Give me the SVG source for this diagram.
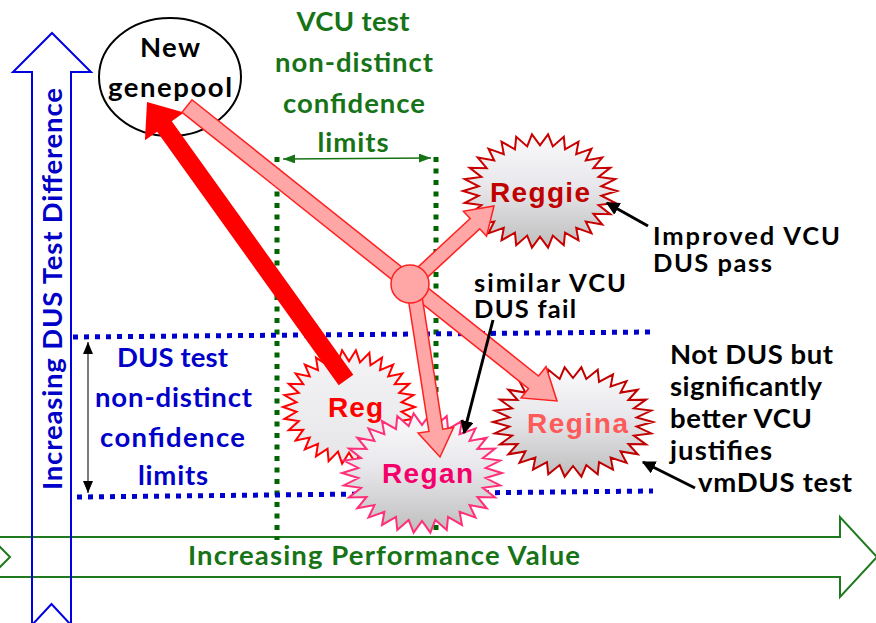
<svg xmlns="http://www.w3.org/2000/svg" xmlns:xlink="http://www.w3.org/1999/xlink" width="876" height="623" viewBox="0 0 876 623">
  <style>
    .cal { font-family: Lato, "Open Sans", "Liberation Sans", sans-serif; font-weight: bold; font-size: 27.5px; }
    .tight { font-size: 25.5px; }
    .ari { font-family: "Liberation Sans", Arial, sans-serif; font-weight: bold; font-size: 28px; text-anchor: middle; }
    .grn { fill: #167316; }
    .blu { fill: #0000C8; }
    .blk { fill: #000; }
    .mid { text-anchor: middle; }
    .blueDots { stroke: #0000CC; stroke-width: 5; stroke-dasharray: 5 6; fill: none; }
    .greenDots { stroke: #006400; stroke-width: 5; stroke-dasharray: 5 6.5; fill: none; }
    .pink { fill: #FFA6A6; stroke: #FF2020; stroke-width: 1.5; stroke-linejoin: miter; }
    .callout { stroke: #000; stroke-width: 3; fill: none; marker-end: url(#ahBlk); }
  </style>
  <defs>
    <linearGradient id="gBurst" x1="0" y1="0" x2="0" y2="1">
      <stop offset="0" stop-color="#FAFAFC"/>
      <stop offset="0.45" stop-color="#E8E8EC"/>
      <stop offset="1" stop-color="#BEBEBE"/>
    </linearGradient>
    <linearGradient id="gBurstLight" x1="0" y1="0" x2="0" y2="1">
      <stop offset="0" stop-color="#F4F4F6"/>
      <stop offset="1" stop-color="#E6E6E8"/>
    </linearGradient>
    <path id="star" vector-effect="non-scaling-stroke" stroke-width="2" stroke-linejoin="miter" d="M100,0 L79.56,8.36 L97.82,20.79 L76.08,24.72 L91.36,40.67 L69.28,40 L80.9,58.78 L59.45,53.53 L66.91,74.31 L47.02,64.72 L50,86.6 L32.54,73.08 L30.9,95.11 L16.63,78.25 L10.45,99.45 L0,80 L-10.45,99.45 L-16.63,78.25 L-30.9,95.11 L-32.54,73.08 L-50,86.6 L-47.02,64.72 L-66.91,74.31 L-59.45,53.53 L-80.9,58.78 L-69.28,40 L-91.36,40.67 L-76.08,24.72 L-97.82,20.79 L-79.56,8.36 L-100,0 L-79.56,-8.36 L-97.82,-20.79 L-76.08,-24.72 L-91.36,-40.67 L-69.28,-40 L-80.9,-58.78 L-59.45,-53.53 L-66.91,-74.31 L-47.02,-64.72 L-50,-86.6 L-32.54,-73.08 L-30.9,-95.11 L-16.63,-78.25 L-10.45,-99.45 L0,-80 L10.45,-99.45 L16.63,-78.25 L30.9,-95.11 L32.54,-73.08 L50,-86.6 L47.02,-64.72 L66.91,-74.31 L59.45,-53.53 L80.9,-58.78 L69.28,-40 L91.36,-40.67 L76.08,-24.72 L97.82,-20.79 L79.56,-8.36 Z"/>
    <marker id="ahBlk" viewBox="0 0 10 10" refX="9" refY="5" markerWidth="4.5" markerHeight="4.5" orient="auto">
      <path d="M0,0 L10,5 L0,10 Z" fill="#000"/>
    </marker>
    <marker id="ahThinK" viewBox="0 0 10 10" refX="10" refY="5" markerUnits="userSpaceOnUse" markerWidth="12" markerHeight="10" orient="auto-start-reverse" preserveAspectRatio="none">
      <path d="M0,0 L10,5 L0,10 Z" fill="#000"/>
    </marker>
    <marker id="ahThinG" viewBox="0 0 10 10" refX="10" refY="5" markerUnits="userSpaceOnUse" markerWidth="12" markerHeight="9" orient="auto-start-reverse" preserveAspectRatio="none">
      <path d="M0,0 L10,5 L0,10 Z" fill="#167316"/>
    </marker>
  </defs>

  <rect x="0" y="0" width="876" height="623" fill="#fff"/>

  <!-- Axes -->
  <g id="axis-performance">
    <polygon points="-10,537 840,537 840,517 877,557 840,597 840,577 -10,577 10,557" fill="none" stroke="#1F7A1F" stroke-width="2"/>
    <text class="cal grn mid" x="384" y="565" textLength="392" lengthAdjust="spacing">Increasing Performance Value</text>
  </g>
  <g id="axis-dus">
    <polygon points="52,33 91,72 71,72 71,625 51.5,604 32,625 32,72 13,72" fill="none" stroke="#0000E0" stroke-width="2"/>
    <text class="cal blu mid" transform="translate(62,289) rotate(-90)" x="0" y="0" textLength="402" lengthAdjust="spacing">Increasing DUS Test Difference</text>
  </g>

  <!-- Confidence limit guides -->
  <g id="vcu-limits">
    <line class="greenDots" x1="277" y1="157" x2="277" y2="540"/>
    <line class="greenDots" x1="436" y1="157" x2="436" y2="532"/>
    <line x1="283" y1="159" x2="431" y2="158" stroke="#167316" stroke-width="1.3" marker-start="url(#ahThinG)" marker-end="url(#ahThinG)"/>
    <text class="cal grn mid" x="353" y="31" textLength="113" lengthAdjust="spacing">VCU test</text>
    <text class="cal grn mid" x="354" y="72" textLength="158" lengthAdjust="spacing">non-distinct</text>
    <text class="cal grn mid" x="354" y="113" textLength="142" lengthAdjust="spacing">confidence</text>
    <text class="cal grn mid" x="353" y="152" textLength="71" lengthAdjust="spacing">limits</text>
  </g>
  <g id="dus-limits">
    <line class="blueDots" x1="73" y1="337" x2="650" y2="332"/>
    <line class="blueDots" x1="77" y1="497" x2="653" y2="491"/>
    <line x1="88" y1="342" x2="88" y2="493" stroke="#333" stroke-width="1.3" marker-start="url(#ahThinK)" marker-end="url(#ahThinK)"/>
    <text class="cal blu mid" x="172.5" y="367" textLength="111" lengthAdjust="spacing">DUS test</text>
    <text class="cal blu mid" x="173.5" y="407" textLength="157" lengthAdjust="spacing">non-distinct</text>
    <text class="cal blu mid" x="172.5" y="447" textLength="145" lengthAdjust="spacing">confidence</text>
    <text class="cal blu mid" x="173" y="485" textLength="70" lengthAdjust="spacing">limits</text>
  </g>

  <!-- Nodes -->
  <g id="node-new-genepool">
    <ellipse cx="170" cy="77" rx="71" ry="59" fill="#fff" stroke="#000" stroke-width="2"/>
    <text class="cal blk mid" x="170" y="57" textLength="60" lengthAdjust="spacing">New</text>
    <text class="cal blk mid" x="170" y="97" textLength="124" lengthAdjust="spacing">genepool</text>
  </g>
  <g id="node-reggie">
    <use xlink:href="#star" href="#star" transform="translate(540,191) scale(0.77,0.57)" fill="url(#gBurst)" stroke="#C80000"/>
  </g>
  <g id="node-reg">
    <use xlink:href="#star" href="#star" transform="translate(349,407) scale(0.66,0.57)" fill="url(#gBurstLight)" stroke="#FF0000"/>
  </g>
  <g id="node-regan">
    <use xlink:href="#star" href="#star" transform="translate(422,473) scale(0.80,0.60)" fill="url(#gBurst)" stroke="#FF2F78"/>
  </g>
  <g id="node-regina">
    <use xlink:href="#star" href="#star" transform="translate(573,422) scale(0.80,0.55)" fill="url(#gBurst)" stroke="#C00000"/>
  </g>

  <!-- Connectors -->
  <g id="connectors">
    <polygon id="arrow-reg-to-genepool" points="353.32,374.76 171.78,121.15 183.97,112.43 147,102 144.95,140.36 157.14,131.63 338.68,385.24" fill="#FF0000"/>
    <polygon id="arrow-genepool-to-regina" class="pink" points="191.99,99.74 538.53,376.05 546.01,366.66 557,401 521.07,397.94 528.55,388.56 182.01,112.26"/>
    <polygon id="arrow-to-reggie" class="pink" points="405.23,278.87 470.17,218.58 463.36,211.25 494,206 486.52,236.17 479.71,228.84 414.77,289.13"/>
    <polygon id="arrow-to-regan" class="pink" points="419.92,282.92 442.76,429.24 453.62,427.54 440,457 418.06,433.1 428.92,431.4 406.08,285.08"/>
    <circle id="junction" cx="410" cy="284" r="19" class="pink"/>
    <line class="callout" x1="648" y1="226" x2="607" y2="203"/>
    <line class="callout" x1="493" y1="320" x2="464" y2="433"/>
    <line class="callout" x1="695" y1="488" x2="643" y2="462"/>
  </g>

  <!-- Node labels -->
  <g id="labels">
    <text class="ari" x="540" y="202" fill="#C00000" textLength="100" lengthAdjust="spacing">Reggie</text>
    <text class="ari" x="355.5" y="417" fill="#FF0000" textLength="55" lengthAdjust="spacing">Reg</text>
    <text class="ari" x="427.5" y="483" fill="#F5006A" textLength="91" lengthAdjust="spacing">Regan</text>
    <text class="ari" x="577.5" y="433" fill="#FF5A5A" textLength="101" lengthAdjust="spacing">Regina</text>
  </g>

  <!-- Annotations -->
  <g id="annotations">
    <text class="cal tight blk" x="653" y="245" textLength="187" lengthAdjust="spacing">Improved VCU</text>
    <text class="cal tight blk" x="653" y="272" textLength="119" lengthAdjust="spacing">DUS pass</text>
    <text class="cal tight blk" x="474" y="292" textLength="152" lengthAdjust="spacing">similar VCU</text>
    <text class="cal tight blk" x="474" y="318" textLength="102" lengthAdjust="spacing">DUS fail</text>
    <text class="cal blk" x="670" y="364" textLength="163" lengthAdjust="spacing">Not DUS but</text>
    <text class="cal blk" x="670" y="396" textLength="152" lengthAdjust="spacing">significantly</text>
    <text class="cal blk" x="670" y="428" textLength="142" lengthAdjust="spacing">better VCU</text>
    <text class="cal blk" x="670" y="460" textLength="102" lengthAdjust="spacing">justifies</text>
    <text class="cal blk" x="698" y="492" textLength="154" lengthAdjust="spacing">vmDUS test</text>
  </g>
</svg>
